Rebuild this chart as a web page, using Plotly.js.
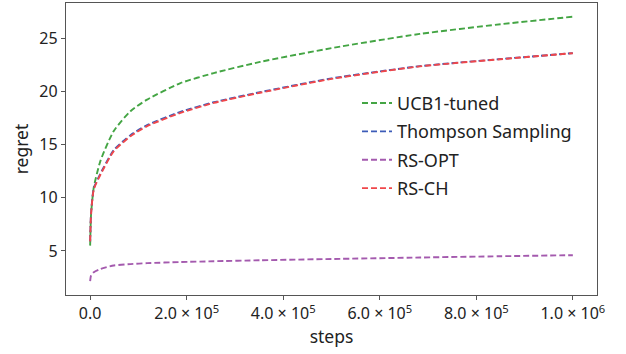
<!DOCTYPE html>
<html>
<head>
<meta charset="utf-8">
<script src="https://cdn.plot.ly/plotly-3.0.1.min.js"></script>
<style>html,body{margin:0;padding:0;background:#fff;}#chart{width:626px;height:354px;}</style>
</head>
<body>
<div id="chart"></div>
<script>
const steps = [0, 2000, 7600, 21500, 49000, 83500, 118000, 187000, 256000, 352000, 500000, 683000, 850000, 1000000];
const ucb1Tuned = [5.5, 8.5, 11.0, 13.5, 16.3, 18.16, 19.25, 20.8, 21.75, 22.8, 24.1, 25.44, 26.35, 27.06];
const thompson = [5.9, 8.6, 10.9, 12.3, 14.5, 15.9, 16.85, 18.1, 19.0, 19.95, 21.25, 22.4, 23.07, 23.63];
const rsOpt = [2.15, 2.7, 3.0, 3.3, 3.63, 3.76, 3.85, 3.95, 4.03, 4.12, 4.24, 4.38, 4.5, 4.6];
const rsCh = [5.9, 8.5, 10.8, 12.2, 14.4, 15.8, 16.75, 18.0, 18.94, 19.9, 21.2, 22.38, 23.05, 23.62];

const names = ['UCB1-tuned', 'Thompson Sampling', 'RS-OPT', 'RS-CH'];
const series = [ucb1Tuned, thompson, rsOpt, rsCh];
const colors = ['#44a544', '#3d5cb8', '#a45aae', '#f0474a'];

const xTickVals = [0, 200000, 400000, 600000, 800000, 1000000];
const xTickText = ['0.0', '2.0 × 10<sup>5</sup>', '4.0 × 10<sup>5</sup>', '6.0 × 10<sup>5</sup>', '8.0 × 10<sup>5</sup>', '1.0 × 10<sup>6</sup>'];
const yTickVals = [5, 10, 15, 20, 25];

const font = '"Noto Sans", "Noto Sans CJK JP", sans-serif';

const traces = series.map((ys, i) => ({
  x: steps, y: ys, name: names[i], type: 'scatter', mode: 'lines',
  line: {color: colors[i], width: 1.9, dash: '6px,3px', shape: 'spline', smoothing: 0.6},
  legendgroup: 'g' + i
}));

const layout = {
  width: 626, height: 354,
  margin: {l: 66, r: 29, t: 3, b: 59},
  paper_bgcolor: '#fff', plot_bgcolor: '#fff',
  font: {family: font, color: '#222', size: 14},
  showlegend: true,
  legend: {x: 0.548, y: 0.72, xanchor: 'left', yanchor: 'top', bgcolor: 'rgba(0,0,0,0)',
           font: {size: 18, family: font, color: '#222'}, tracegroupgap: 2},
  xaxis: {
    range: [-50000, 1050000], tickvals: xTickVals, ticktext: xTickText,
    showgrid: false, zeroline: false, showline: true, mirror: true, linecolor: '#555', linewidth: 1.2,
    ticks: 'outside', ticklen: 4, tickcolor: '#555', tickfont: {size: 16, family: font, color: '#222'},
    title: {text: 'steps', font: {size: 17.5, family: font, color: '#222'}, standoff: 4}
  },
  yaxis: {
    range: [0.85, 28.35], tickvals: yTickVals,
    showgrid: false, zeroline: false, showline: true, mirror: true, linecolor: '#555', linewidth: 1.2,
    ticks: 'outside', ticklen: 4, tickcolor: '#555', tickfont: {size: 16, family: font, color: '#222'},
    title: {text: 'regret', font: {size: 17.5, family: font, color: '#222'}, standoff: 6}
  }
};

Plotly.newPlot('chart', traces, layout, {displayModeBar: false, staticPlot: true});
</script>
</body>
</html>
